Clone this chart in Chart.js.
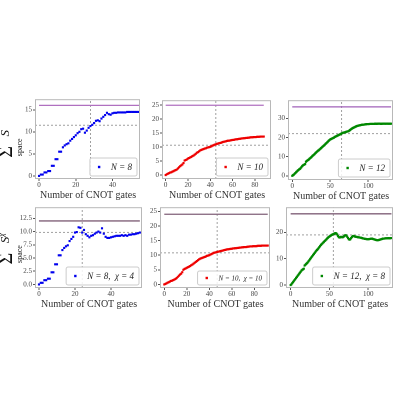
<!DOCTYPE html>
<html><head><meta charset="utf-8">
<script src="https://cdn.jsdelivr.net/npm/chart.js@4/dist/chart.umd.min.js"></script>
<style>
body{margin:0;background:#fff;width:400px;height:400px;position:relative;overflow:hidden;font-family:"Liberation Serif",serif}
canvas{position:absolute}
.xl{position:absolute;font-size:10px;color:#333;text-align:center;white-space:nowrap}
.yl{position:absolute;font-size:14px;color:#111;transform:rotate(-90deg);transform-origin:center;white-space:nowrap}
</style></head><body>
<script>
// ---- data ----
const s8 = [0,0.3,0.3,0.8,0.8,1.1,1.1,2.3,2.3,3.8,3.8,5.5,5.5,6.5,6.9,7.2,7.4,8.0,8.4,8.8,9.2,9.7,10.0,10.6,10.7,9.8,10.3,10.9,11.3,11.6,12.0,12.5,12.6,12.4,13.0,13.4,13.8,14.3,14.0,13.9,14.2,14.3,14.3,14.4,14.4,14.4,14.4,14.4,14.5,14.5,14.5,14.5,14.5,14.5,14.5,14.5];
const s8chi = [0,0.3,0.3,0.8,0.8,1.1,1.1,2.3,2.3,3.8,3.8,5.5,5.5,6.5,6.9,7.2,7.4,8.2,8.6,9.0,9.8,9.9,10.8,10.7,9.8,10.3,9.5,9.2,8.9,9.2,9.3,9.6,9.8,10.0,9.8,10.6,9.6,9.0,8.8,8.8,8.9,9.0,9.1,9.2,9.2,9.2,9.3,9.2,9.3,9.2,9.4,9.4,9.5,9.5,9.6,9.7,9.8];
const s10 = [0,0.3,0.5,0.7,0.9,1.0,1.2,1.4,1.6,1.8,2.0,2.4,2.8,3.2,3.5,3.8,4.3,5.2,5.4,5.6,5.9,6.1,6.3,6.5,6.8,7.0,7.3,7.6,8.0,8.2,8.5,8.8,9.0,9.2,9.3,9.5,9.6,9.8,9.9,10.0,10.1,10.3,10.5,10.7,10.9,11.0,11.2,11.3,11.4,11.5,11.6,11.8,11.9,12.0,12.1,12.2,12.3,12.3,12.4,12.5,12.6,12.6,12.7,12.8,12.8,12.9,13.0,13.0,13.1,13.1,13.2,13.2,13.3,13.3,13.4,13.4,13.5,13.5,13.5,13.6,13.6,13.6,13.7,13.7,13.7,13.8,13.8,13.8,13.8];
const s10chi = [0,0.2,0.4,0.6,0.8,1.0,1.2,1.3,1.5,1.7,1.9,2.2,2.6,3.0,3.4,3.7,4.2,5.0,5.3,5.5,5.7,5.9,6.1,6.3,6.6,6.8,7.1,7.4,7.7,8.0,8.3,8.6,8.8,9.0,9.1,9.3,9.4,9.6,9.8,9.9,10.0,10.2,10.4,10.6,10.8,10.9,11.0,11.1,11.2,11.3,11.4,11.5,11.6,11.7,11.8,11.9,12.0,12.0,12.1,12.2,12.2,12.3,12.3,12.4,12.4,12.5,12.5,12.6,12.6,12.7,12.7,12.8,12.8,12.8,12.9,12.9,13.0,13.0,13.0,13.1,13.1,13.1,13.1,13.2,13.2,13.2,13.2,13.3,13.3,13.3,13.3,13.3,13.3];
const s12 = [0,0.3,0.6,1.0,1.4,1.8,2.2,2.6,3.0,3.3,3.6,4.0,4.5,5.0,5.4,5.7,5.9,6.1,7.3,7.7,8.0,8.3,8.6,9.0,9.3,9.7,10.1,10.5,10.8,11.2,11.6,12.0,12.4,12.8,13.1,13.4,13.8,14.1,14.5,14.9,15.2,15.6,15.9,16.3,16.7,17.1,17.5,17.9,18.3,18.7,19.0,19.2,19.4,19.6,19.8,20.0,20.3,20.5,20.7,20.9,21.1,21.3,21.5,21.7,21.9,22.1,22.3,22.5,22.6,22.7,22.8,23.0,23.1,23.2,23.3,23.6,23.9,24.2,24.5,24.8,25.0,25.2,25.4,25.6,25.8,26.0,26.1,26.2,26.3,26.4,26.5,26.6,26.7,26.7,26.8,26.8,26.9,26.9,27.0,27.0,27.0,27.0,27.1,27.1,27.1,27.1,27.1,27.1,27.1,27.2,27.2,27.1,27.2,27.2,27.3,27.2,27.2,27.1,27.2,27.2,27.2,27.3,27.2,27.2,27.2,27.3,27.2,27.2,27.2,27.2,27.2];
const s12chi = [0,0.3,0.7,1.1,1.5,1.9,2.3,2.7,3.1,3.5,3.9,4.3,4.7,5.1,5.5,5.8,6.0,6.2,7.4,7.7,8.0,8.3,8.6,9.0,9.4,9.8,10.2,10.6,11.0,11.4,11.8,12.2,12.6,13.0,13.3,13.6,14.0,14.4,14.8,15.2,15.5,15.8,16.1,16.4,16.7,17.0,17.3,17.6,17.9,18.2,18.4,18.6,18.8,19.0,19.2,19.3,19.4,19.6,19.7,19.5,19.2,18.6,18.2,18.0,18.1,18.3,18.2,18.1,18.3,18.5,18.8,18.9,18.7,18.3,17.8,17.4,17.2,17.4,17.8,18.2,18.5,18.6,18.5,18.4,18.3,18.3,18.2,18.1,18.1,18.0,18.0,17.9,17.8,17.7,17.6,17.6,17.5,17.5,17.4,17.4,17.4,17.4,17.5,17.5,17.6,17.6,17.5,17.4,17.3,17.2,17.1,17.0,17.0,17.0,17.1,17.2,17.3,17.4,17.5,17.6,17.6,17.6,17.7,17.7,17.7,17.7,17.8,17.7,17.7,17.8,17.8];
const labels = ["N = 8","N = 10","N = 12","N = 8,  χ = 4","N = 10,  χ = 10","N = 12,  χ = 8"];
const maxLevel = [16, 25, 36, 12, 24, 27];   // purple line
const hLevel   = [11.5, 10.7, 22, 9.85, 10.8, 19]; // grey dashed horizontal
const vGate    = [28, 45, 65, 24, 47, 55];   // grey dashed vertical
const yTickStep = [5, 5, 10, 2.5, 5, 10];
const xTickStep = [20, 20, 50, 20, 20, 50];

const series = [s8, s10, s12, s8chi, s10chi, s12chi];
const colors = ['#0000ee','#ee0000','#008800','#0000ee','#ee0000','#008800'];
const purple = ['#b070c0','#b070c0','#a060b8','#806078','#806078','#806078'];
// layout: chart-area rects and axis ranges
const rects = [[35,96,141,179],[162,97,272,179],[288,97,394,180],[35,204,143,288],[160,204,271,288],[286,204,394,288]];
const xr = [[-2.2,55],[-3.3,94.5],[-5.6,132.6],[-2.2,57.2],[-3.8,94],[-6,132]];
const yr = [[-0.7,17.4],[-1.4,26.8],[-2.2,39.5],[-0.67,14.6],[-1.2,26.4],[-1.1,29.5]];

const YW=24, XH=12, PT=2, PR=3;
const framePlugin = {id:'frame', afterDraw(c,a,o){
  const ca=c.chartArea, ctx=c.ctx;
  ctx.save(); ctx.strokeStyle='#b8b8b8'; ctx.lineWidth=1;
  ctx.strokeRect(ca.left+0.5,ca.top+0.5,ca.right-ca.left-1,ca.bottom-ca.top-1);
  const txt=o.text, col=o.color;
  ctx.font='italic 9px "Liberation Serif", serif';
  if(o.small) ctx.font='italic 7px "Liberation Serif", serif';
  const tw=ctx.measureText(txt).width;
  const bw=tw+26, bh=o.small?14:18;
  const bx=ca.right-bw-3, by=ca.bottom-bh-3;
  ctx.fillStyle='rgba(255,255,255,0.85)'; ctx.strokeStyle='#cccccc';
  ctx.beginPath(); ctx.roundRect(bx,by,bw,bh,2); ctx.fill(); ctx.stroke();
  ctx.fillStyle=col; ctx.fillRect(bx+8,by+bh/2-1.2,2.4,2.4);
  ctx.fillStyle='#222'; ctx.textBaseline='middle'; ctx.fillText(txt,bx+bw-tw-5,by+bh/2+0.5);
  ctx.restore();
}};

for(let i=0;i<6;i++){
  const [l,t,r,b]=rects[i];
  const cv=document.createElement('canvas');
  const W=(r-l)+YW+PR, H=(b-t)+XH+PT;
  cv.style.width=W+'px'; cv.style.height=H+'px';
  const dv=document.createElement('div'); dv.style.cssText=`position:absolute;left:${l-YW}px;top:${t-PT}px;width:${W}px;height:${H}px`;
  dv.appendChild(cv); document.body.appendChild(dv);
  cv.style.left='0'; cv.style.top='0';
  const pts=series[i].map((v,k)=>({x:k,y:v}));
  const [x0,x1]=xr[i],[y0,y1]=yr[i];
  new Chart(cv,{type:'scatter',data:{datasets:[
    {data:pts,showLine:false,pointRadius:1.5,pointStyle:'rect',backgroundColor:colors[i],borderWidth:0,order:1},
    {data:[{x:0,y:maxLevel[i]},{x:series[i].length-1,y:maxLevel[i]}],showLine:true,pointRadius:0,borderColor:purple[i],borderWidth:1.3,order:2},
    {data:[{x:x0,y:hLevel[i]},{x:x1,y:hLevel[i]}],showLine:true,pointRadius:0,borderColor:'#888',borderWidth:0.8,borderDash:[2,2],order:3},
    {data:[{x:vGate[i],y:y0},{x:vGate[i],y:y1}],showLine:true,pointRadius:0,borderColor:'#888',borderWidth:0.8,borderDash:[2,2],order:3}
  ]},options:{responsive:false,animation:false,devicePixelRatio:2,
    layout:{padding:{top:PT,right:PR,left:0,bottom:0}},
    plugins:{legend:{display:false},tooltip:{enabled:false},
      frame:{text:labels[i],color:colors[i],small:i===4}},
    scales:{
      x:{type:'linear',min:x0,max:x1,border:{display:false},
        grid:{drawOnChartArea:false,drawTicks:true,tickLength:2,color:'#555'},
        ticks:{stepSize:xTickStep[i],includeBounds:false,padding:0,color:'#444',font:{family:'"Liberation Serif", serif',size:7},maxRotation:0},
        afterFit:s=>{s.height=XH;}},
      y:{type:'linear',min:y0,max:y1,border:{display:false},
        grid:{drawOnChartArea:false,drawTicks:true,tickLength:2,color:'#555'},
        ticks:{stepSize:yTickStep[i],includeBounds:false,padding:1,color:'#444',font:{family:'"Liberation Serif", serif',size:7},
          callback:v=>yTickStep[i]===2.5?v.toFixed(1):v},
        afterFit:s=>{s.width=YW;}}
    }},plugins:[framePlugin]});
  const xl=document.createElement('div'); xl.className='xl';
  xl.textContent='Number of CNOT gates';
  xl.style.left=l+'px'; xl.style.width=(r-l)+'px'; xl.style.top=(b+10)+'px';
  document.body.appendChild(xl);
}
function ylab(html,cy){
  const d=document.createElement('div'); d.className='yl'; d.innerHTML=html;
  d.style.left='-29px'; d.style.width='70px'; d.style.textAlign='center'; d.style.top=(cy-10)+'px';
  document.body.appendChild(d);
}
ylab('<span style="font-size:20px">Σ</span><sub style="font-size:8px;position:relative;left:-10px;top:6px">space</sub><i style="font-size:13px;position:relative;left:-8px;top:-3px">S</i>',138);
ylab('<span style="font-size:20px">Σ</span><sub style="font-size:8px;position:relative;left:-10px;top:6px">space</sub><i style="font-size:13px;position:relative;left:-8px;top:-3px">S<sup style="font-size:8px">χ</sup></i>',243);
</script>
</body></html>
